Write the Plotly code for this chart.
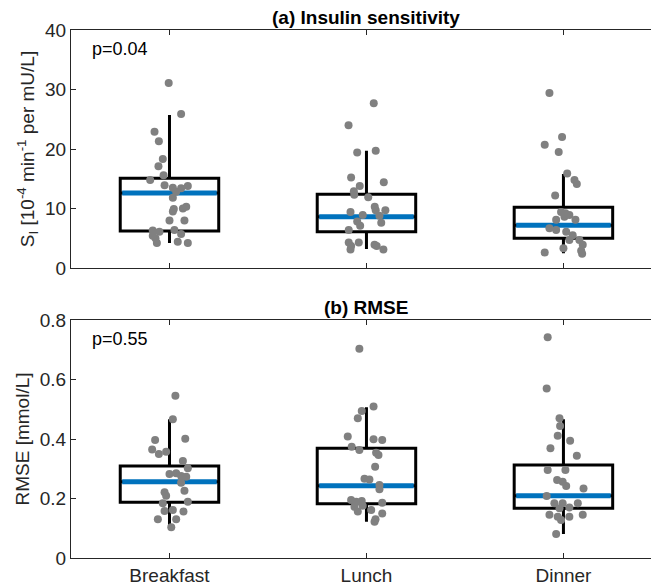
import plotly.graph_objects as go

categories = ["Breakfast", "Lunch", "Dinner"]
cat_pos = [1, 2, 3]

# ---------- (a) Insulin sensitivity ----------
si_breakfast = [31.1, 25.9, 22.9, 21.3, 18.3, 17.1, 15.6, 14.8, 13.9, 13.5, 13.4, 13.8, 12.8, 11.8,
                10.3, 10.0, 9.9, 9.5, 8.0, 8.0, 6.3, 6.1, 6.4, 5.7, 5.4, 5.0, 4.2, 4.4, 4.2]
si_breakfast_dx = [-0.004, 0.059, -0.076, -0.054, -0.034, -0.056, -0.030, -0.098, -0.025, 0.017, 0.059,
                   0.093, 0.034, 0.017, 0.085, 0.068, 0.022, 0.017, 0.076, 0.0, -0.085, -0.051, 0.025,
                   0.059, -0.085, -0.071, -0.064, 0.042, 0.093]
si_lunch = [27.7, 24.0, 19.4, 19.7, 15.2, 13.8, 14.4, 12.9, 12.3, 11.9, 10.3, 9.7, 9.7, 9.4, 8.9, 8.8,
            7.8, 7.1, 7.6, 6.4, 4.3, 3.7, 4.3, 3.9, 3.7, 3.1, 3.1]
si_lunch_dx = [0.037, -0.091, -0.047, 0.047, -0.078, -0.034, 0.088, -0.064, -0.062, 0.009, 0.042, 0.047,
               0.096, -0.081, -0.019, 0.066, -0.047, -0.032, 0.075, -0.090, -0.090, -0.078, -0.039,
               0.041, 0.052, -0.081, 0.086]
si_dinner = [29.4, 22.0, 20.7, 19.5, 15.9, 14.8, 14.1, 12.2, 9.4, 9.2, 8.9, 8.1, 8.1, 8.6, 6.7, 6.4,
             6.1, 5.5, 4.7, 4.7, 3.9, 2.9, 2.4, 3.3, 2.6]
si_dinner_dx = [-0.071, -0.007, -0.095, -0.024, 0.019, 0.056, 0.068, -0.042, -0.012, 0.010, 0.030, 0.061,
                -0.037, 0.005, -0.071, -0.037, 0.014, 0.047, 0.030, 0.081, 0.098, 0.090, 0.095, 0.0,
                -0.095]
si_q1 = [6.2, 6.1, 5.0]
si_median = [12.6, 8.6, 7.2]
si_q3 = [15.1, 12.4, 10.2]
si_lo = [4.2, 3.2, 2.5]
si_hi = [25.7, 19.7, 15.8]

# ---------- (b) RMSE ----------
rmse_breakfast = [0.545, 0.466, 0.397, 0.401, 0.365, 0.350, 0.357, 0.326, 0.302, 0.282, 0.285, 0.276,
                  0.273, 0.253, 0.226, 0.221, 0.209, 0.189, 0.184, 0.158, 0.161, 0.156, 0.130, 0.130,
                  0.103]
rmse_breakfast_dx = [0.030, 0.017, -0.073, 0.080, -0.088, -0.054, -0.017, 0.068, 0.093, 0.0, 0.034, 0.059,
                     0.085, 0.059, 0.076, -0.025, -0.017, 0.093, -0.034, -0.025, 0.017, 0.071, -0.059,
                     0.034, 0.009]
rmse_lunch = [0.703, 0.509, 0.494, 0.470, 0.408, 0.399, 0.397, 0.374, 0.363, 0.354, 0.346, 0.307, 0.266,
              0.264, 0.245, 0.231, 0.195, 0.189, 0.192, 0.186, 0.172, 0.176, 0.156, 0.161, 0.150, 0.130,
              0.122]
rmse_lunch_dx = [-0.036, 0.036, -0.024, -0.044, -0.095, 0.036, 0.080, -0.075, -0.036, 0.049, 0.061, 0.044,
                 -0.010, 0.015, 0.066, 0.066, -0.078, -0.052, -0.024, 0.080, -0.061, -0.019, -0.044,
                 0.024, 0.080, 0.046, 0.041]
rmse_dinner = [0.742, 0.570, 0.470, 0.444, 0.411, 0.394, 0.369, 0.344, 0.296, 0.296, 0.262, 0.256, 0.242,
               0.234, 0.208, 0.184, 0.184, 0.184, 0.170, 0.167, 0.145, 0.145, 0.139, 0.139, 0.128, 0.081]
rmse_dinner_dx = [-0.080, -0.085, -0.020, -0.017, -0.029, 0.034, -0.066, 0.068, -0.080, 0.010, -0.032,
                  -0.004, 0.014, 0.102, -0.085, -0.046, -0.004, 0.073, 0.030, -0.020, 0.098, -0.071,
                  -0.029, 0.030, -0.012, -0.037]
rmse_q1 = [0.187, 0.182, 0.167]
rmse_median = [0.256, 0.243, 0.209]
rmse_q3 = [0.309, 0.369, 0.313]
rmse_lo = [0.100, 0.122, 0.081]
rmse_hi = [0.466, 0.507, 0.466]

p_values = ["p=0.04", "p=0.55"]
panel_titles = ["<b>(a) Insulin sensitivity</b>", "<b>(b) RMSE</b>"]

FONT = "Liberation Sans, Arial, sans-serif"
AXIS_COLOR = "#262626"
BOX_WIDTH = 0.5

fig = go.Figure()


def add_panel(xa, ya, q1, med, q3, lo, hi, groups):
    fig.add_trace(go.Box(
        x=cat_pos, q1=q1, median=med, q3=q3, lowerfence=lo, upperfence=hi,
        boxpoints=False, width=BOX_WIDTH, whiskerwidth=0,
        line=dict(color="black", width=3), fillcolor="white",
        xaxis=xa, yaxis=ya, hoverinfo="skip", showlegend=False))
    mx, my = [], []
    for c, m in zip(cat_pos, med):
        mx += [c - BOX_WIDTH / 2 + 0.01, c + BOX_WIDTH / 2 - 0.01, None]
        my += [m, m, None]
    fig.add_trace(go.Scatter(x=mx, y=my, mode="lines",
                             line=dict(color="#0072BD", width=5),
                             xaxis=xa, yaxis=ya, hoverinfo="skip", showlegend=False))
    for c, (vals, dxs) in zip(cat_pos, groups):
        fig.add_trace(go.Scatter(x=[c + d for d in dxs], y=vals, mode="markers",
                                 marker=dict(color="#808080", size=8),
                                 xaxis=xa, yaxis=ya, showlegend=False))


add_panel("x", "y", si_q1, si_median, si_q3, si_lo, si_hi,
          [(si_breakfast, si_breakfast_dx), (si_lunch, si_lunch_dx), (si_dinner, si_dinner_dx)])
add_panel("x2", "y2", rmse_q1, rmse_median, rmse_q3, rmse_lo, rmse_hi,
          [(rmse_breakfast, rmse_breakfast_dx), (rmse_lunch, rmse_lunch_dx), (rmse_dinner, rmse_dinner_dx)])

# page body has an 8px margin, so the figure is drawn 8px smaller and everything shifted by 8px
W, H = 651, 577
mt, mb = 22, 27
ph = H - mt - mb
x_dom = [63 / W, 649 / W]
top_dom = [(550 - 260) / ph, 1.0]
bot_dom = [0.0, (550 - 312) / ph]

TICK_FONT = dict(family=FONT, size=19, color=AXIS_COLOR)
common_x = dict(range=[0.5, 3.475], tickvals=cat_pos, ticktext=categories, ticks="inside",
                ticklen=5, tickcolor=AXIS_COLOR, showline=True, linecolor=AXIS_COLOR, linewidth=1,
                mirror="ticks", showgrid=False, zeroline=False, domain=x_dom, tickfont=TICK_FONT)
common_y = dict(ticks="inside", ticklen=5, tickcolor=AXIS_COLOR, showline=True, linecolor=AXIS_COLOR,
                linewidth=1, mirror="ticks", showgrid=False, zeroline=False, tickfont=TICK_FONT)

fig.update_layout(
    width=W, height=H, margin=dict(l=0, r=0, t=mt, b=mb),
    plot_bgcolor="white", paper_bgcolor="white",
    font=dict(family=FONT, size=19, color=AXIS_COLOR),
    xaxis=dict(common_x, anchor="y", showticklabels=False),
    yaxis=dict(common_y, anchor="x", domain=top_dom, range=[0, 40], tickvals=[0, 10, 20, 30, 40],
               title=dict(text="S<sub>I</sub> [10<sup>-4</sup> min<sup>-1</sup> per mU/L]",
                          font=dict(family=FONT, size=19, color=AXIS_COLOR), standoff=5)),
    xaxis2=dict(common_x, anchor="y2"),
    yaxis2=dict(common_y, anchor="x2", domain=bot_dom, range=[0, 0.8], tickvals=[0, 0.2, 0.4, 0.6, 0.8],
                ticktext=["0", "0.2", "0.4", "0.6", "0.8"],
                title=dict(text="RMSE [mmol/L]", font=dict(family=FONT, size=19, color=AXIS_COLOR),
                           standoff=5)),
)

for i, (xr, yr) in enumerate([("x", "y"), ("x2", "y2")]):
    fig.add_annotation(text=panel_titles[i], xref=xr, x=2, yref=yr + " domain", y=1,
                       yanchor="bottom", xanchor="center", showarrow=False, yshift=0,
                       font=dict(family=FONT, size=19, color="black"))
    fig.add_annotation(text=p_values[i], xref=xr + " domain", x=0.032, yref=yr + " domain", y=0.92,
                       xanchor="left", yanchor="middle", showarrow=False,
                       font=dict(family=FONT, size=18, color="black"))

fig.write_html("out.html")
